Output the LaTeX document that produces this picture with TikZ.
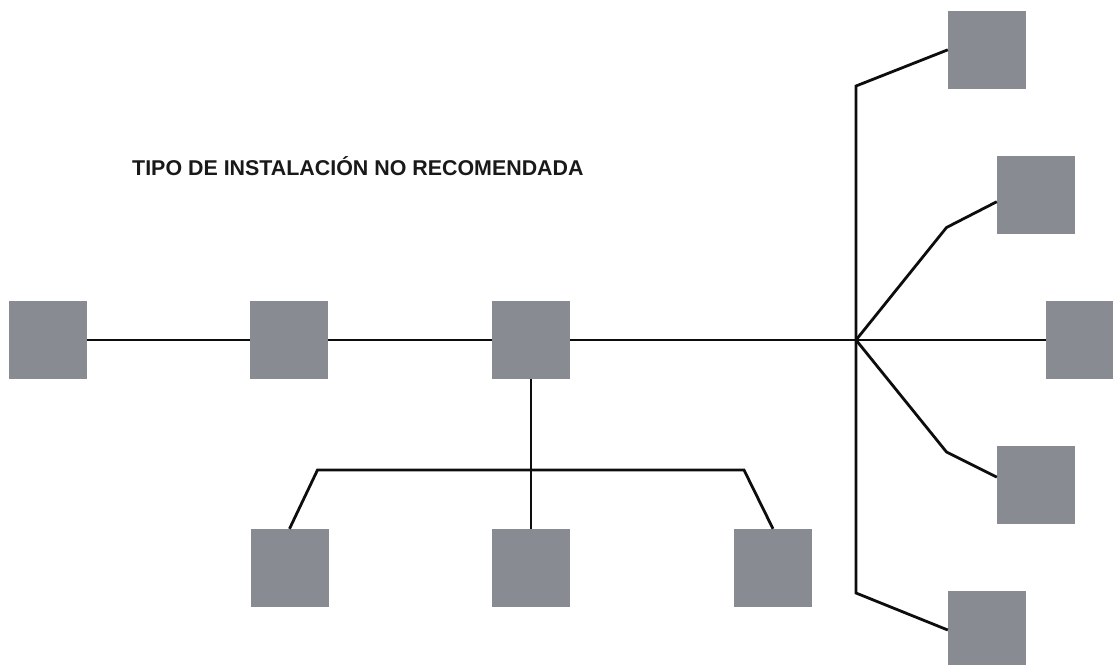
\documentclass[tikz,border=0pt]{standalone}
\usepackage{fontspec}
\setmainfont{Liberation Sans}
\usetikzlibrary{calc}
\definecolor{boxgray}{RGB}{136,139,146}
\tikzset{
  unit/.style={rectangle,fill=boxgray,draw=none,minimum width=78pt,minimum height=78pt,inner sep=0pt},
  wire/.style={line width=2.8pt,draw=black!95,line join=miter},
  title/.style={font=\bfseries\fontsize{21.4}{25}\selectfont,inner sep=0pt,text=black!90}
}
\begin{document}
\begin{tikzpicture}[x=1pt,y=-1pt]
\useasboundingbox (0,0) rectangle (1113,664);
\clip (0,0) rectangle (1113,664);
\node[title,anchor=base west] (t) at (132,175) {TIPO DE INSTALACIÓN NO RECOMENDADA};
% squares
\node[unit] (a) at (48,340) {};
\node[unit] (b) at (289,340) {};
\node[unit] (c) at (531,340) {};
\node[unit] (d) at (289.5,568) {};
\node[unit] (e) at (531,568) {};
\node[unit] (f) at (773,568) {};
\node[unit] (r1) at (987,49.8) {};
\node[unit] (r2) at (1036,194.7) {};
\node[unit] (r3) at (1085,340) {};
\node[unit] (r4) at (1036,484.7) {};
\node[unit] (r5) at (987,630) {};
% junction points
\coordinate (hub) at (856,340);
\coordinate (vtop) at (856,86);
\coordinate (vbot) at (856,593);
\coordinate (k2) at (946.5,227.5);
\coordinate (k4) at (946.5,452);
\coordinate (bl) at (317.5,470);
\coordinate (br) at (744,470);
% wires
\draw[wire] (a.east) -- (b.west);
\draw[wire] (b.east) -- (c.west);
\draw[wire] (c.east) -- (hub) -- (r3.west);
\draw[wire] (r1.west) -- (vtop) -- (vbot) -- (r5.west);
\draw[wire] (hub) -- (k2) -- ([yshift=-7pt]r2.west);
\draw[wire] (hub) -- (k4) -- ([yshift=7.5pt]r4.west);
\draw[wire] (c.south) -- (e.north);
\draw[wire] (d.north) -- (bl) -- (br) -- (f.north);
\end{tikzpicture}
\end{document}
